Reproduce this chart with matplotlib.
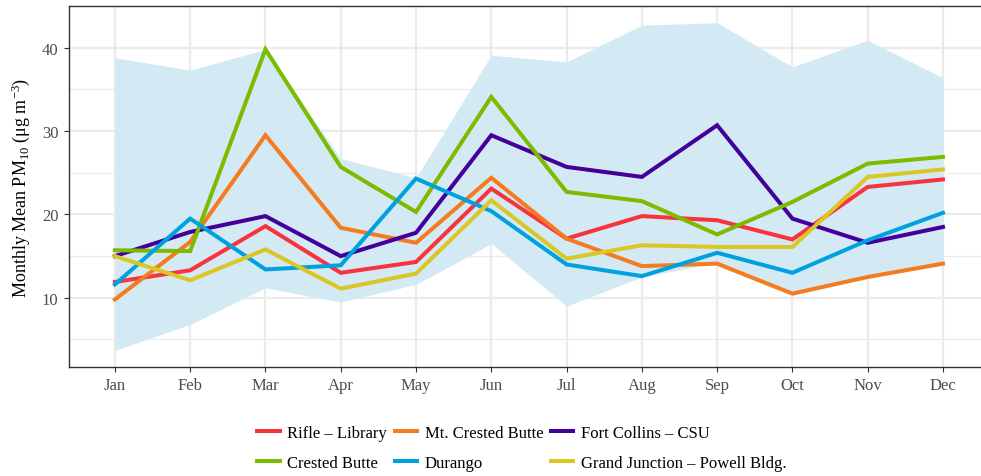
#!/usr/bin/env python3
"""Monthly mean PM10 at six Colorado sites, with the network range shaded."""

import matplotlib
matplotlib.use("Agg")
import matplotlib.pyplot as plt
import numpy as np

# Data
MONTHS = ["Jan", "Feb", "Mar", "Apr", "May", "Jun",
          "Jul", "Aug", "Sep", "Oct", "Nov", "Dec"]

band_low = [3.7, 6.8, 11.2, 9.5, 11.6, 16.5, 9.0, 12.5, 14.2, 10.5, 12.5, 14.0]
band_high = [38.8, 37.3, 39.8, 26.7, 24.4, 39.1, 38.3, 42.7, 43.0, 37.7, 40.9, 36.4]

rifle = [11.9, 13.3, 18.6, 13.0, 14.3, 23.1, 17.1, 19.8, 19.3, 17.0, 23.3, 24.2]
mt_crested_butte = [9.8, 16.7, 29.5, 18.4, 16.6, 24.4, 17.1, 13.8, 14.1, 10.5, 12.5, 14.1]
fort_collins = [15.0, 17.9, 19.8, 15.0, 17.8, 29.5, 25.7, 24.5, 30.7, 19.5, 16.6, 18.5]
crested_butte = [15.7, 15.6, 39.8, 25.7, 20.3, 34.1, 22.7, 21.6, 17.6, 21.5, 26.1, 26.9]
durango = [11.6, 19.5, 13.4, 13.9, 24.3, 20.4, 14.0, 12.6, 15.4, 13.0, 16.9, 20.2]
grand_junction = [15.0, 12.1, 15.8, 11.1, 12.9, 21.7, 14.7, 16.3, 16.1, 16.1, 24.5, 25.4]

SERIES = [
    ("Rifle – Library", rifle, "#F8333C"),
    ("Mt. Crested Butte", mt_crested_butte, "#F47B20"),
    ("Fort Collins – CSU", fort_collins, "#44009A"),
    ("Crested Butte", crested_butte, "#7DBB00"),
    ("Durango", durango, "#00A1DF"),
    ("Grand Junction – Powell Bldg.", grand_junction, "#DAC626"),
]


def main():
    plt.rcParams["font.family"] = ["Liberation Serif", "DejaVu Serif"]
    plt.rcParams["mathtext.fontset"] = "custom"
    plt.rcParams["mathtext.rm"] = "Liberation Serif"
    plt.rcParams["mathtext.it"] = "Liberation Serif:italic"

    fig = plt.figure(figsize=(9.81, 4.77), dpi=100)
    ax = fig.add_axes([0.0703, 0.2285, 0.9297, 0.7568])

    x = np.arange(1, len(MONTHS) + 1)
    ax.fill_between(x, band_low, band_high, color="#D3EAF5", linewidth=0, zorder=2)

    for label, vals, color in SERIES:
        ax.plot(x, vals, color=color, lw=2.9, label=label, zorder=3,
                solid_joinstyle="miter")

    ax.set_xlim(0.39, 12.505)
    ax.set_ylim(1.7, 45.0)
    ax.set_xticks(x)
    ax.set_xticklabels(MONTHS)
    ax.set_yticks([10, 20, 30, 40])
    ax.set_yticks([5, 15, 25, 35], minor=True)

    ax.grid(True, which="major", color="#EBEBEB", lw=1.6, zorder=1)
    ax.grid(True, which="minor", axis="y", color="#EBEBEB", lw=0.9, zorder=1)
    ax.set_axisbelow(True)

    ax.tick_params(axis="both", which="major", length=3.5, width=0.8,
                   color="#333333", labelcolor="#4D4D4D", labelsize=12, pad=4)
    ax.tick_params(axis="y", which="minor", length=0)
    for side in ["left", "bottom", "top"]:
        ax.spines[side].set_color("#333333")
        ax.spines[side].set_linewidth(1.0)
    ax.spines["right"].set_visible(False)

    ax.set_ylabel("Monthly Mean PM$_{10}$ (μg m$^{-3}$)", fontsize=13, labelpad=7)

    handles, labels = ax.get_legend_handles_labels()
    order = [0, 3, 1, 4, 2, 5]
    fig.legend([handles[i] for i in order], [labels[i] for i in order],
               loc="center", bbox_to_anchor=(0.532, 0.059), ncol=3,
               frameon=False, fontsize=12, handlelength=1.35,
               handletextpad=0.45, columnspacing=0.45, labelspacing=0.85)

    fig.savefig("out.png", dpi=100)
    plt.close(fig)


if __name__ == "__main__":
    main()
